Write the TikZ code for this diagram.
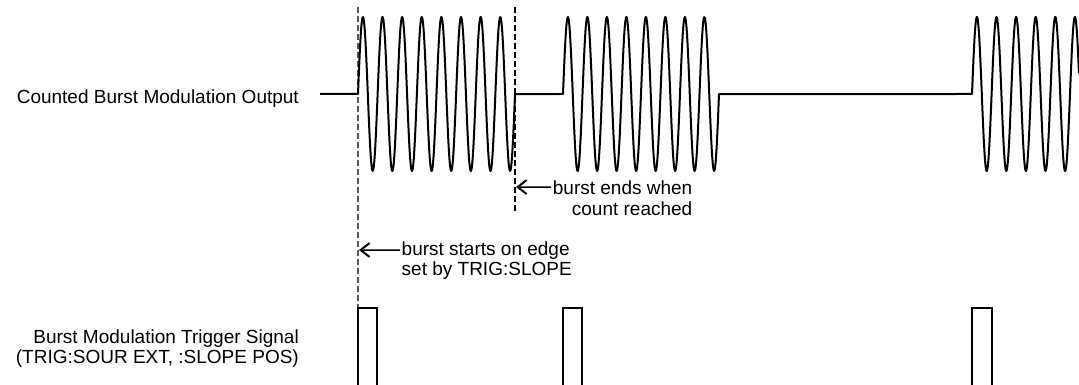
\documentclass[tikz,border=0pt]{standalone}
\usepackage{fontspec}
\setmainfont{Liberation Sans}
\usetikzlibrary{arrows.meta}
\tikzset{
  wave/.style={line width=2pt, line join=round},
  pulse/.style={line width=1.5pt},
  markline/.style={line width=1.1pt, dash pattern=on 6pt off 3pt},
  lbl/.style={inner sep=0pt, font=\fontsize{19}{20}\selectfont},
  note/.style={inner sep=1.5pt, font=\fontsize{19}{20}\selectfont},
  arr/.style={line width=1.5pt, -{Straight Barb[length=9pt,width=14pt,line width=2pt]}}
}
\begin{document}
\begin{tikzpicture}[x=1pt,y=-1pt]
\useasboundingbox[fill=white] (0,0) rectangle (1079,385);
% labels
\node[lbl, anchor=base east] (outlbl) at (299,104) {Counted Burst Modulation Output};
\node[lbl, anchor=base east] (trglbl1) at (299,343) {Burst Modulation Trigger Signal};
\node[lbl, anchor=base east] (trglbl2) at (299,363) {(TRIG:SOUR EXT, :SLOPE POS)};
% marker lines
\coordinate (m1top) at (358,7);
\coordinate (m1bot) at (358,308);
\coordinate (m2top) at (515,7);
\coordinate (m2bot) at (515,212);
\draw[markline, black!65] (m1top) -- (m1bot);
\draw[markline] (m2top) -- (m2bot);
% waveform
\draw[wave] (320,94) -- (358,94)
  -- plot[domain=0:8, samples=400, smooth] ({358+19.625*\x},{94-77*sin(360*\x)})
  -- (563,94)
  -- plot[domain=0:8, samples=400, smooth] ({563+19.5*\x},{94-77*sin(360*\x)})
  -- (972,94)
  -- plot[domain=0:5.46, samples=300, smooth] ({972+19.6*\x},{94-77*sin(360*\x)});
% trigger pulses
\draw[pulse] (358,386) -- (358,308) -- (377,308) -- (377,386);
\draw[pulse] (563,386) -- (563,308) -- (582,308) -- (582,386);
\draw[pulse] (972,386) -- (972,308) -- (992,308) -- (992,386);
% annotations
\node[note, anchor=base east] (endA) at (694,194) {burst ends when};
\node[note, anchor=base east] (endB) at (694,215) {count reached};
\coordinate (endpt) at (516,187);
\draw[arr] (endA.west) -- (endpt);
\node[note, anchor=base west] (stA) at (400,255) {burst starts on edge};
\node[note, anchor=base west] (stB) at (400,275) {set by TRIG:SLOPE};
\coordinate (stpt) at (359,250);
\draw[arr] (stA.west) -- (stpt);
\end{tikzpicture}
\end{document}
